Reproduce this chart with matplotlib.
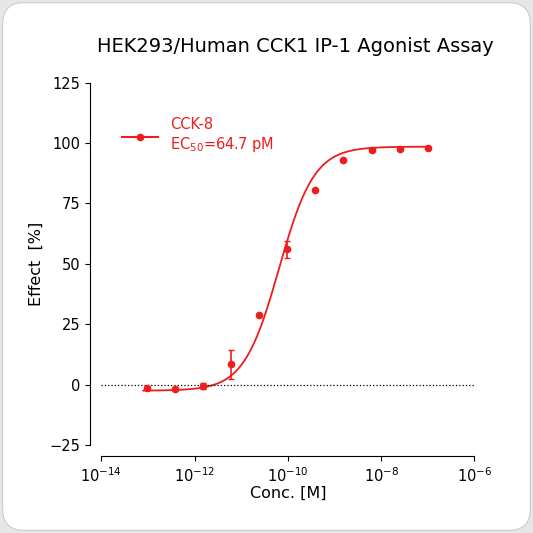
import numpy as np
import matplotlib.pyplot as plt
from matplotlib.patches import FancyBboxPatch

# data
conc = [9.5e-14, 3.8e-13, 1.5e-12, 6.1e-12, 2.4e-11, 9.8e-11, 3.9e-10, 1.56e-9, 6.25e-9, 2.5e-8, 1e-7]
effect = [-1.5, -2.0, -0.5, 8.5, 29.0, 56.0, 80.5, 93.0, 97.0, 97.5, 98.0]
err = [0, 0, 1.2, 6.0, 0, 3.5, 0, 0, 0, 0, 0]

# fitted 4PL parameters
bottom, top, ec50, hill = -2.5, 98.5, 64.7e-12, 1.15

red = "#ee1c1c"

fig = plt.figure(figsize=(5.33, 5.33), dpi=100)
fig.patch.set_facecolor("#e6e6e6")
card = FancyBboxPatch((0.005, 0.005), 0.99, 0.99, boxstyle="round,pad=0,rounding_size=0.04",
                      transform=fig.transFigure, facecolor="white", edgecolor="#cccccc", lw=0.8,
                      zorder=-10)
fig.patches.append(card)

ax = fig.add_axes([0.19, 0.165, 0.70, 0.68])
ax.patch.set_alpha(0)
xs = np.logspace(-13.1, -7, 300)
ys = bottom + (top - bottom) / (1 + (ec50 / xs) ** hill)
ax.plot(xs, ys, color=red, lw=1.3)
ax.errorbar(conc, effect, yerr=err, fmt="o", color=red, ms=4.5, capsize=2.5, elinewidth=1.2)
ax.plot([], [], "o-", color=red, ms=4.5, label="CCK-8\nEC$_{50}$=64.7 pM")
ax.axhline(0, color="black", ls=":", lw=0.9)

ax.set_xscale("log")
ax.set_xlim(1e-14, 1e-6)
ax.set_xticks([1e-14, 1e-12, 1e-10, 1e-8, 1e-6])
ax.minorticks_off()
ax.set_ylim(-25, 125)
ax.set_yticks([-25, 0, 25, 50, 75, 100, 125])
for s in ["top", "right"]:
    ax.spines[s].set_visible(False)
ax.spines["bottom"].set_position(("outward", 8))
ax.spines["left"].set_position(("outward", 8))
ax.tick_params(labelsize=10.5)
ax.set_xlabel("Conc. [M]", fontsize=11.5, labelpad=1)
ax.set_ylabel("Effect  [%]", fontsize=11.5)
ax.set_title("HEK293/Human CCK1 IP-1 Agonist Assay", fontsize=14, pad=22, x=0.52)

leg = ax.legend(loc="upper left", bbox_to_anchor=(0.02, 0.94), frameon=False, fontsize=10.5,
                handlelength=2.5)
for t in leg.get_texts():
    t.set_color(red)

fig.savefig("out.png", dpi=100, facecolor=fig.get_facecolor())
